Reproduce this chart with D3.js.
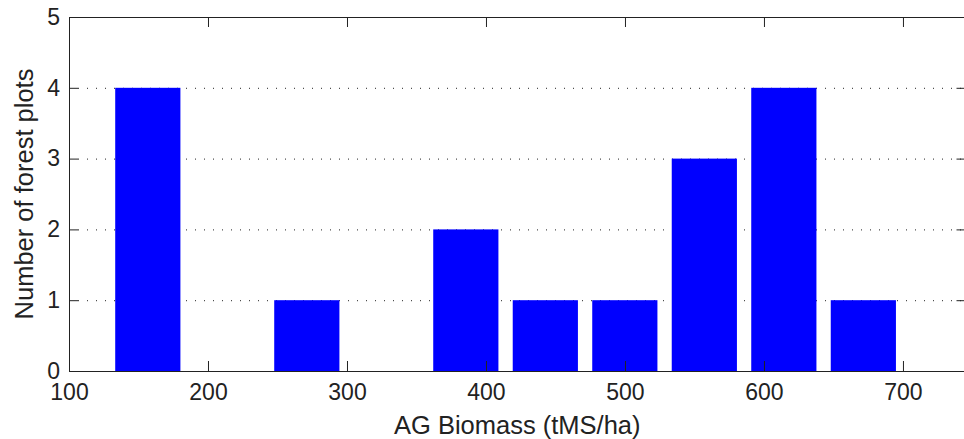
<!DOCTYPE html>
<html>
<head>
<meta charset="utf-8">
<script src="https://cdn.jsdelivr.net/npm/d3@7"></script>
<style>
  body { margin: 0; background: #fff; }
  svg { display: block; }
  .tick text { font-family: 'Liberation Sans', Arial, sans-serif; font-size: 23px; fill: #222; }
  .axis-label { font-family: 'Liberation Sans', Arial, sans-serif; font-size: 25.5px; fill: #222; }
</style>
</head>
<body>
<svg width="964" height="439"></svg>
<script>
  // histogram bin centres (tMS/ha) and counts
  const binCenters = [156.7, 213.9, 271.1, 328.3, 385.5, 442.7, 499.9, 557.1, 614.3, 671.5];
  const counts = [4, 0, 1, 0, 2, 1, 1, 3, 4, 1];
  const xTicks = [100, 200, 300, 400, 500, 600, 700];
  const yTicks = [0, 1, 2, 3, 4, 5];

  (function (d3) {
    'use strict';

    const svg = d3.select('svg');

    const xAxisLabel = 'AG Biomass (tMS/ha)';
    const yAxisLabel = 'Number of forest plots';

    const data = binCenters.map((c, i) => ({ center: c, count: counts[i] }));

    // pixel box of the axes (right edge runs just past the window)
    const box = { left: 69, top: 17, bottom: 371, right: 965.5 };

    const xScale = d3.scaleLinear()
      .domain([100, 745])
      .range([box.left, box.right]);

    const yScale = d3.scaleLinear()
      .domain([0, 5])
      .range([box.bottom, box.top]);

    // dotted horizontal grid
    const gridG = svg.append('g')
      .attr('transform', `translate(${box.left},0)`)
      .call(d3.axisLeft(yScale).tickValues(yTicks.slice(1)).tickSize(-(box.right - box.left)).tickFormat(''));
    gridG.select('.domain').remove();
    gridG.selectAll('.tick line')
      .attr('stroke', '#222')
      .attr('stroke-dasharray', '1,8');

    // bars, 0.82 of bin spacing
    const spacing = xScale(binCenters[1]) - xScale(binCenters[0]);
    const barW = spacing * 0.82;

    svg.append('g')
      .selectAll('rect')
      .data(data.filter(d => d.count > 0))
      .enter().append('rect')
        .attr('x', d => xScale(d.center) - barW / 2)
        .attr('y', d => yScale(d.count))
        .attr('width', barW)
        .attr('height', d => yScale(0) - yScale(d.count))
        .attr('fill', '#0000ff');

    // axes, ticks pointing inwards like matlab
    const xAxisG = svg.append('g')
      .attr('transform', `translate(0,${box.bottom})`)
      .call(d3.axisBottom(xScale).tickValues(xTicks).tickSize(-10).tickSizeOuter(0).tickPadding(13));

    const topG = svg.append('g')
      .attr('transform', `translate(0,${box.top})`)
      .call(d3.axisTop(xScale).tickValues(xTicks).tickSize(-10).tickSizeOuter(0).tickFormat(''));

    const yAxisG = svg.append('g')
      .attr('transform', `translate(${box.left},0)`)
      .call(d3.axisLeft(yScale).tickValues(yTicks).tickFormat(d3.format('d'))
        .tickSize(-9).tickSizeOuter(0).tickPadding(9));

    const rightG = svg.append('g')
      .attr('transform', `translate(${box.right},0)`)
      .call(d3.axisRight(yScale).tickValues(yTicks).tickSize(-9).tickSizeOuter(0).tickFormat(''));

    [xAxisG, topG, yAxisG, rightG].forEach(a => {
      a.selectAll('.domain, .tick line').attr('stroke', '#222');
    });

    svg.append('text')
      .attr('class', 'axis-label')
      .attr('x', (box.left + box.right) / 2)
      .attr('y', 434)
      .attr('text-anchor', 'middle')
      .text(xAxisLabel);

    svg.append('text')
      .attr('class', 'axis-label')
      .attr('transform', 'rotate(-90)')
      .attr('x', -(box.top + box.bottom) / 2)
      .attr('y', 33)
      .attr('text-anchor', 'middle')
      .text(yAxisLabel);

  }(d3));
</script>
</body>
</html>
